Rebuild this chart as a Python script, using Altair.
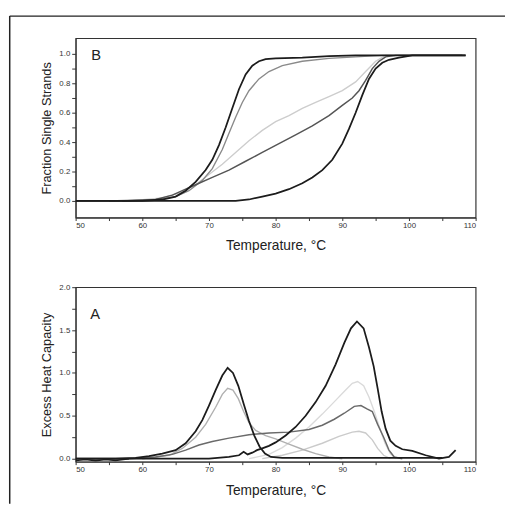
import altair as alt
import pandas as pd

# ---------------- Panel B : fraction single strands ----------------
b1_t = [50, 60, 63, 65, 66.5, 68, 69.5, 70.5, 71.5, 72.5, 73.5, 74.5, 75.5, 76.5, 77.5, 78.5, 80, 84, 88, 92, 100, 108.5]
b1_f = [0, 0, 0.01, 0.03, 0.07, 0.13, 0.21, 0.28, 0.38, 0.5, 0.63, 0.76, 0.86, 0.92, 0.95, 0.965, 0.97, 0.975, 0.985, 0.99, 0.99, 0.99]

b2_t = [55, 62, 65, 67, 69, 70.5, 72, 73, 74, 75, 76, 77.5, 79, 81, 84, 88, 92, 96, 108]
b2_f = [0, 0.01, 0.03, 0.07, 0.14, 0.22, 0.35, 0.46, 0.57, 0.67, 0.75, 0.83, 0.88, 0.92, 0.95, 0.97, 0.98, 0.99, 0.99]

b3_t = [58, 63, 66, 68, 70, 72, 74, 76, 78, 80, 82, 84, 86, 88, 90, 92, 93.5, 95, 96.5, 108]
b3_f = [0, 0.02, 0.06, 0.11, 0.18, 0.25, 0.33, 0.41, 0.48, 0.54, 0.58, 0.63, 0.67, 0.71, 0.75, 0.81, 0.88, 0.95, 0.99, 0.99]

b4_t = [57, 62, 64.5, 66, 68, 70.5, 73, 75.5, 78, 80.5, 83, 85.5, 88, 90, 91.5, 92.5, 93.5, 94.5, 95.5, 96.5, 98, 108]
b4_f = [0, 0.01, 0.04, 0.07, 0.11, 0.16, 0.21, 0.27, 0.33, 0.39, 0.45, 0.51, 0.58, 0.65, 0.70, 0.75, 0.82, 0.9, 0.95, 0.98, 0.99, 0.99]

b5_t = [50, 74, 76, 78, 80, 82, 84, 85.5, 87, 88.5, 90, 91, 92, 93, 94, 95, 96, 97, 98.5, 100.5, 108.5]
b5_f = [0, 0, 0.01, 0.03, 0.05, 0.08, 0.12, 0.16, 0.21, 0.28, 0.39, 0.49, 0.6, 0.72, 0.83, 0.9, 0.94, 0.96, 0.975, 0.99, 0.99]

# ---------------- Panel A : excess heat capacity ----------------
a1_t = [50, 56, 59, 61, 63, 65, 66.5, 68, 69, 70, 71, 72, 72.8, 73.6, 74.4, 75.2, 76, 76.8, 77.6, 78.4, 79.3, 81, 90, 100, 105]
a1_h = [0, 0, 0.01, 0.03, 0.06, 0.1, 0.18, 0.32, 0.45, 0.62, 0.8, 0.97, 1.06, 1.0, 0.85, 0.64, 0.44, 0.27, 0.14, 0.06, 0.02, 0.01, 0.01, 0.01, 0.01]

a2_t = [60, 64, 66, 68, 69.5, 71, 72, 72.8, 73.6, 74.4, 75.2, 76, 77, 78.5, 80, 82, 84, 86, 88, 90]
a2_h = [0, 0.04, 0.12, 0.25, 0.4, 0.6, 0.75, 0.82, 0.8, 0.7, 0.55, 0.42, 0.33, 0.27, 0.23, 0.17, 0.11, 0.06, 0.02, 0.0]

a3_t = [52, 58, 62, 64.5, 66.5, 68.5, 70.5, 73, 76, 79, 82, 85, 87, 88.8, 90.3, 91.8, 92.8, 93.7, 94.5, 95.3, 96.2, 97, 97.8, 99]
a3_h = [0, 0, 0.02, 0.05, 0.1, 0.16, 0.2, 0.24, 0.28, 0.3, 0.31, 0.34, 0.39, 0.46, 0.53, 0.61, 0.62, 0.58, 0.55, 0.4, 0.25, 0.1, 0.02, 0]

a4_t = [76, 79, 81, 83, 85, 87, 89, 90.5, 91.5, 92.3, 93.2, 94, 94.8, 95.6, 96.4, 97.2, 98]
a4_h = [0, 0.05, 0.13, 0.24, 0.37, 0.52, 0.68, 0.8, 0.88, 0.9, 0.85, 0.72, 0.55, 0.36, 0.18, 0.06, 0]

a5_t = [78, 81, 84, 87, 89.5, 91.5, 92.5, 93.5, 94.5, 95.3, 96.2, 97.2]
a5_h = [0, 0.04, 0.1, 0.18, 0.26, 0.31, 0.32, 0.3, 0.22, 0.12, 0.04, 0]

a6_t = [50, 70, 73, 74.5, 75.2, 75.8, 76.5, 77.2, 78, 79, 80, 81.5, 83, 84.5, 86, 87.5, 89, 90.3, 91.3, 92.2, 93.2, 94.0, 94.7, 95.3, 95.9, 96.5, 97.2, 98, 99, 100.5, 102.5, 104.5, 106, 107]
a6_h = [0, 0, 0.02, 0.04, 0.08, 0.05, 0.07, 0.1, 0.12, 0.15, 0.19, 0.27, 0.37, 0.5, 0.66, 0.85, 1.1, 1.35, 1.52, 1.6, 1.52, 1.3, 1.08, 0.82, 0.55, 0.35, 0.21, 0.15, 0.11, 0.09, 0.04, 0.0, 0.02, 0.1]

a7_t = [50, 51.5, 53, 54.5, 56, 58]
a7_h = [-0.02, -0.01, -0.025, -0.01, -0.02, 0]

# ---------------- chart ----------------
FONT = "Liberation Sans"
W = 408

x_axis = alt.Axis(values=list(range(50, 111, 5)),
                  labelExpr="datum.value % 10 == 0 ? datum.value : ''",
                  title="Temperature, °C", tickSize=3, labelPadding=1,
                  titlePadding=10, titleFontSize=14)
x_scale = alt.Scale(domain=[50, 110], nice=False, zero=False)


def lines(series, y_scale, y_axis):
    out = []
    for t, v, color, w in series:
        df = pd.DataFrame({"t": t, "v": v})
        out.append(
            alt.Chart(df).mark_line(color=color, strokeWidth=w, clip=True).encode(
                x=alt.X("t:Q", scale=x_scale, axis=x_axis),
                y=alt.Y("v:Q", scale=y_scale, axis=y_axis),
            )
        )
    return out


def letter(s, x, y):
    return alt.Chart(pd.DataFrame({"s": [s]})).mark_text(
        align="left", baseline="middle", fontSize=15, font=FONT, color="#222"
    ).encode(x=alt.value(x), y=alt.value(y), text="s:N")


b_vals = [0, 0.1, 0.2, 0.3, 0.4, 0.5, 0.6, 0.7, 0.8, 0.9, 1.0]
b_axis = alt.Axis(values=b_vals,
                  labelExpr="round(datum.value*10) % 2 == 0 ? format(datum.value, '.1f') : ''",
                  title="Fraction Single Strands", tickSize=4, titlePadding=6)
b_scale = alt.Scale(domain=[-0.113, 1.107], nice=False, zero=False)

DARK = "#1c1c1c"
b_series = [
    (b3_t, b3_f, "#cdcdcd", 1.4),
    (b2_t, b2_f, "#8a8a8a", 1.4),
    (b4_t, b4_f, "#555555", 1.5),
    (b1_t, b1_f, DARK, 1.8),
    (b5_t, b5_f, DARK, 1.8),
]

frame_df = pd.DataFrame({"k": [0]})
frame_top = alt.Chart(frame_df).mark_rule(color="#222", strokeWidth=1.5).encode(
    x=alt.value(-67.25), x2=alt.value(438), y=alt.value(-22.5))
frame_left = alt.Chart(frame_df).mark_rule(color="#222", strokeWidth=1.5).encode(
    x=alt.value(-67.25), y=alt.value(-22.5), y2=alt.value(475))

panel_b = alt.layer(
    *lines(b_series, b_scale, b_axis), letter("B", 16, 17), frame_top, frame_left
).properties(width=W, height=183)

a_vals = [0, 0.25, 0.5, 0.75, 1.0, 1.25, 1.5, 1.75, 2.0]
a_axis = alt.Axis(values=a_vals,
                  labelExpr="round(datum.value*4) % 2 == 0 ? format(datum.value, '.1f') : ''",
                  title="Excess Heat Capacity", tickSize=4, titlePadding=6)
a_scale = alt.Scale(domain=[-0.035, 2.0], nice=False, zero=False)

a_series = [
    (a4_t, a4_h, "#dadada", 1.4),
    (a5_t, a5_h, "#cbcbcb", 1.4),
    (a2_t, a2_h, "#b0b0b0", 1.4),
    (a3_t, a3_h, "#6a6a6a", 1.5),
    (a7_t, a7_h, DARK, 1.5),
    (a1_t, a1_h, DARK, 1.8),
    (a6_t, a6_h, DARK, 1.8),
]

panel_a = alt.layer(
    *lines(a_series, a_scale, a_axis), letter("A", 15, 27)
).properties(width=W, height=178)

chart = alt.vconcat(panel_b, panel_a, spacing=71, bounds="flush").properties(
    padding={"left": 0, "top": 1.75, "right": 0, "bottom": 0}
).configure_view(
    stroke="#333", strokeWidth=1.2
).configure_axis(
    grid=False, domainColor="#333", tickColor="#333", labelColor="#333",
    labelFont=FONT, titleFont=FONT, labelFontSize=8, titleFontSize=13,
    titleFontWeight="normal", titleColor="#222"
)

chart.save("out.html", embed_options={"renderer": "svg", "actions": False})
